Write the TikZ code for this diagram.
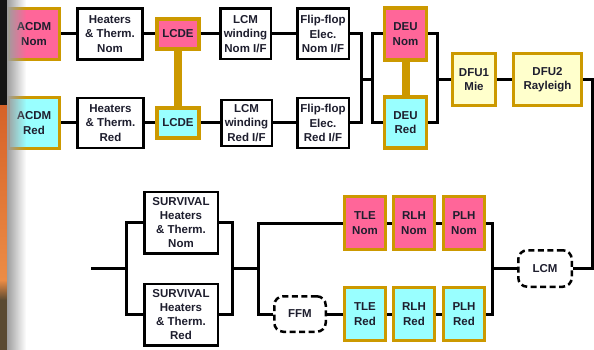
\documentclass[tikz,border=0pt]{standalone}
\usepackage{fontspec}
\setmainfont{Liberation Sans}
\usetikzlibrary{fadings}
\definecolor{gold}{HTML}{CC9900}
\definecolor{pinkf}{HTML}{FF6699}
\definecolor{cyanf}{HTML}{99FFFF}
\definecolor{yelf}{HTML}{FFFFCC}
\definecolor{txt}{HTML}{1E1E2E}
\definecolor{orgA}{RGB}{214,98,40}
\definecolor{orgB}{RGB}{236,140,70}
\definecolor{brn}{RGB}{90,74,50}
\tikzfading[name=fadegrey, left color=transparent!0, right color=transparent!100]
\tikzset{
 base/.style={inner sep=0pt, align=center, font=\fontsize{11.5}{14.3}\selectfont\bfseries, text=txt},
 wbox/.style={base, draw=black, line width=2.5pt, fill=white},
 gbox/.style={base, draw=gold, line width=3.2pt},
 nomf/.style={gbox, fill=pinkf},
 redf/.style={gbox, fill=cyanf},
 yelbox/.style={gbox, fill=yelf},
 dbox/.style={base, draw=black, line width=2.5pt, dash pattern=on 6pt off 3.5pt, rounded corners=9pt, fill=white},
 wire/.style={line width=3pt, black},
 goldbar/.style={line width=8pt, gold},
 sz/.style 2 args={minimum width=#1, minimum height=#2},
}
\begin{document}
\begin{tikzpicture}[x=1pt,y=-1pt]
\useasboundingbox (0,0) rectangle (594,350);
\fill[white] (0,0) rectangle (594,350);
% left photo strip
\fill[black!92] (0,0) rectangle (7,106);
\shade[top color=orgA, bottom color=orgB] (0,106) rectangle (7,280);
\shade[top color=orgB, bottom color=brn] (0,280) rectangle (7,300);
\fill[brn] (0,300) rectangle (7,350);

% top rows
\node[nomf, sz={51pt}{51pt}] (acdmN) at (34,34) {ACDM\\Nom};
\node[redf, sz={51pt}{51pt}] (acdmR) at (34,123) {ACDM\\Red};
\node[wbox, sz={65pt}{51pt}] (heatN) at (110,34) {Heaters\\\& Therm.\\Nom};
\node[wbox, sz={66pt}{50pt}] (heatR) at (110.5,123) {Heaters\\\& Therm.\\Red};
\node[nomf, sz={42pt}{30pt}] (lcdeN) at (178,34) {LCDE};
\node[redf, sz={42pt}{30pt}] (lcdeR) at (178,123) {LCDE};
\node[wbox, sz={50.5pt}{50.5pt}] (lcmN) at (245.5,34) {LCM\\winding\\Nom I/F};
\node[wbox, sz={50.5pt}{46pt}] (lcmR) at (246.5,123) {LCM\\winding\\Red I/F};
\node[wbox, sz={51.5pt}{50.5pt}] (ffN) at (323,34) {Flip-flop\\Elec.\\Nom I/F};
\node[wbox, sz={51.5pt}{49.5pt}] (ffR) at (323,123) {Flip-flop\\Elec.\\Red I/F};
\node[nomf, sz={42pt}{52pt}] (deuN) at (405.5,34) {DEU\\Nom};
\node[redf, sz={42pt}{51pt}] (deuR) at (405.5,122.5) {DEU\\Red};
\node[yelbox, sz={43pt}{52pt}] (dfu1) at (474,79.5) {DFU1\\Mie};
\node[yelbox, sz={68pt}{52pt}] (dfu2) at (547.5,79.5) {DFU2\\Rayleigh};

% bottom rows
\node[wbox, sz={73.5pt}{61.5pt}] (survN) at (181,222.5) {SURVIVAL\\Heaters\\\& Therm.\\Nom};
\node[wbox, sz={73.5pt}{61.5pt}] (survR) at (181,314.5) {SURVIVAL\\Heaters\\\& Therm.\\Red};
\node[dbox, sz={51.5pt}{35.5pt}] (ffm) at (300,314) {FFM};
\node[nomf, sz={41pt}{53pt}] (tleN) at (365,223) {TLE\\Nom};
\node[nomf, sz={41pt}{53pt}] (rlhN) at (414,223) {RLH\\Nom};
\node[nomf, sz={41pt}{53pt}] (plhN) at (464,223) {PLH\\Nom};
\node[redf, sz={41pt}{53pt}] (tleR) at (365,314) {TLE\\Red};
\node[redf, sz={41pt}{53pt}] (rlhR) at (414,314) {RLH\\Red};
\node[redf, sz={41pt}{53pt}] (plhR) at (464,314) {PLH\\Red};
\node[dbox, sz={53.5pt}{36.5pt}] (lcm) at (545,268.5) {LCM};

% junction coordinates
\coordinate (j1) at (361,79.5);
\coordinate (j2) at (372,79.5);
\coordinate (j3) at (437,79.5);
\coordinate (c1) at (592,268.5);
\coordinate (j4) at (492,268.5);
\coordinate (j5) at (258,268.5);
\coordinate (j6) at (232,268.5);
\coordinate (j7) at (126,268.5);
\coordinate (st) at (91,268.5);

% wires
\draw[wire] (acdmN) -- (heatN);
\draw[wire] (heatN) -- (lcdeN);
\draw[wire] (lcdeN) -- (lcmN);
\draw[wire] (lcmN) -- (ffN);
\draw[wire] (acdmR) -- (heatR);
\draw[wire] (heatR) -- (lcdeR);
\draw[wire] (lcdeR) -- (lcmR);
\draw[wire] (lcmR) -- (ffR);
\draw[wire] (ffN.east) -| (j1) |- (ffR.east);
\draw[wire] (j1) -- (j2);
\draw[wire] (deuN.west) -| (j2) |- (deuR.west);
\draw[wire] (deuN.east) -| (j3) |- (deuR.east);
\draw[wire] (j3) -- (dfu1);
\draw[wire] (dfu1) -- (dfu2);
\draw[wire] (dfu2.east) -| (c1) -- (lcm.east);
\draw[wire] (lcm.west) -- (j4);
\draw[wire] (plhN.east) -| (j4) |- (plhR.east);
\draw[wire] (plhN) -- (rlhN);
\draw[wire] (rlhN) -- (tleN);
\draw[wire] (plhR) -- (rlhR);
\draw[wire] (rlhR) -- (tleR);
\draw[wire] (tleR) -- (ffm);
\draw[wire] (tleN.west) -| (j5) |- (ffm.west);
\draw[wire] (j6) -- (j5);
\draw[wire] (survN.east) -| (j6) |- (survR.east);
\draw[wire] (survN.west) -| (j7) |- (survR.west);
\draw[wire] (st) -- (j7);

% cross-strapping bars
\draw[goldbar] (lcdeN.south) -- (lcdeR.north);
\draw[goldbar] (deuN.south) -- (deuR.north);

% grey fade at left edge
\fill[black!38, path fading=fadegrey] (7,0) rectangle (26,350);
\end{tikzpicture}
\end{document}
